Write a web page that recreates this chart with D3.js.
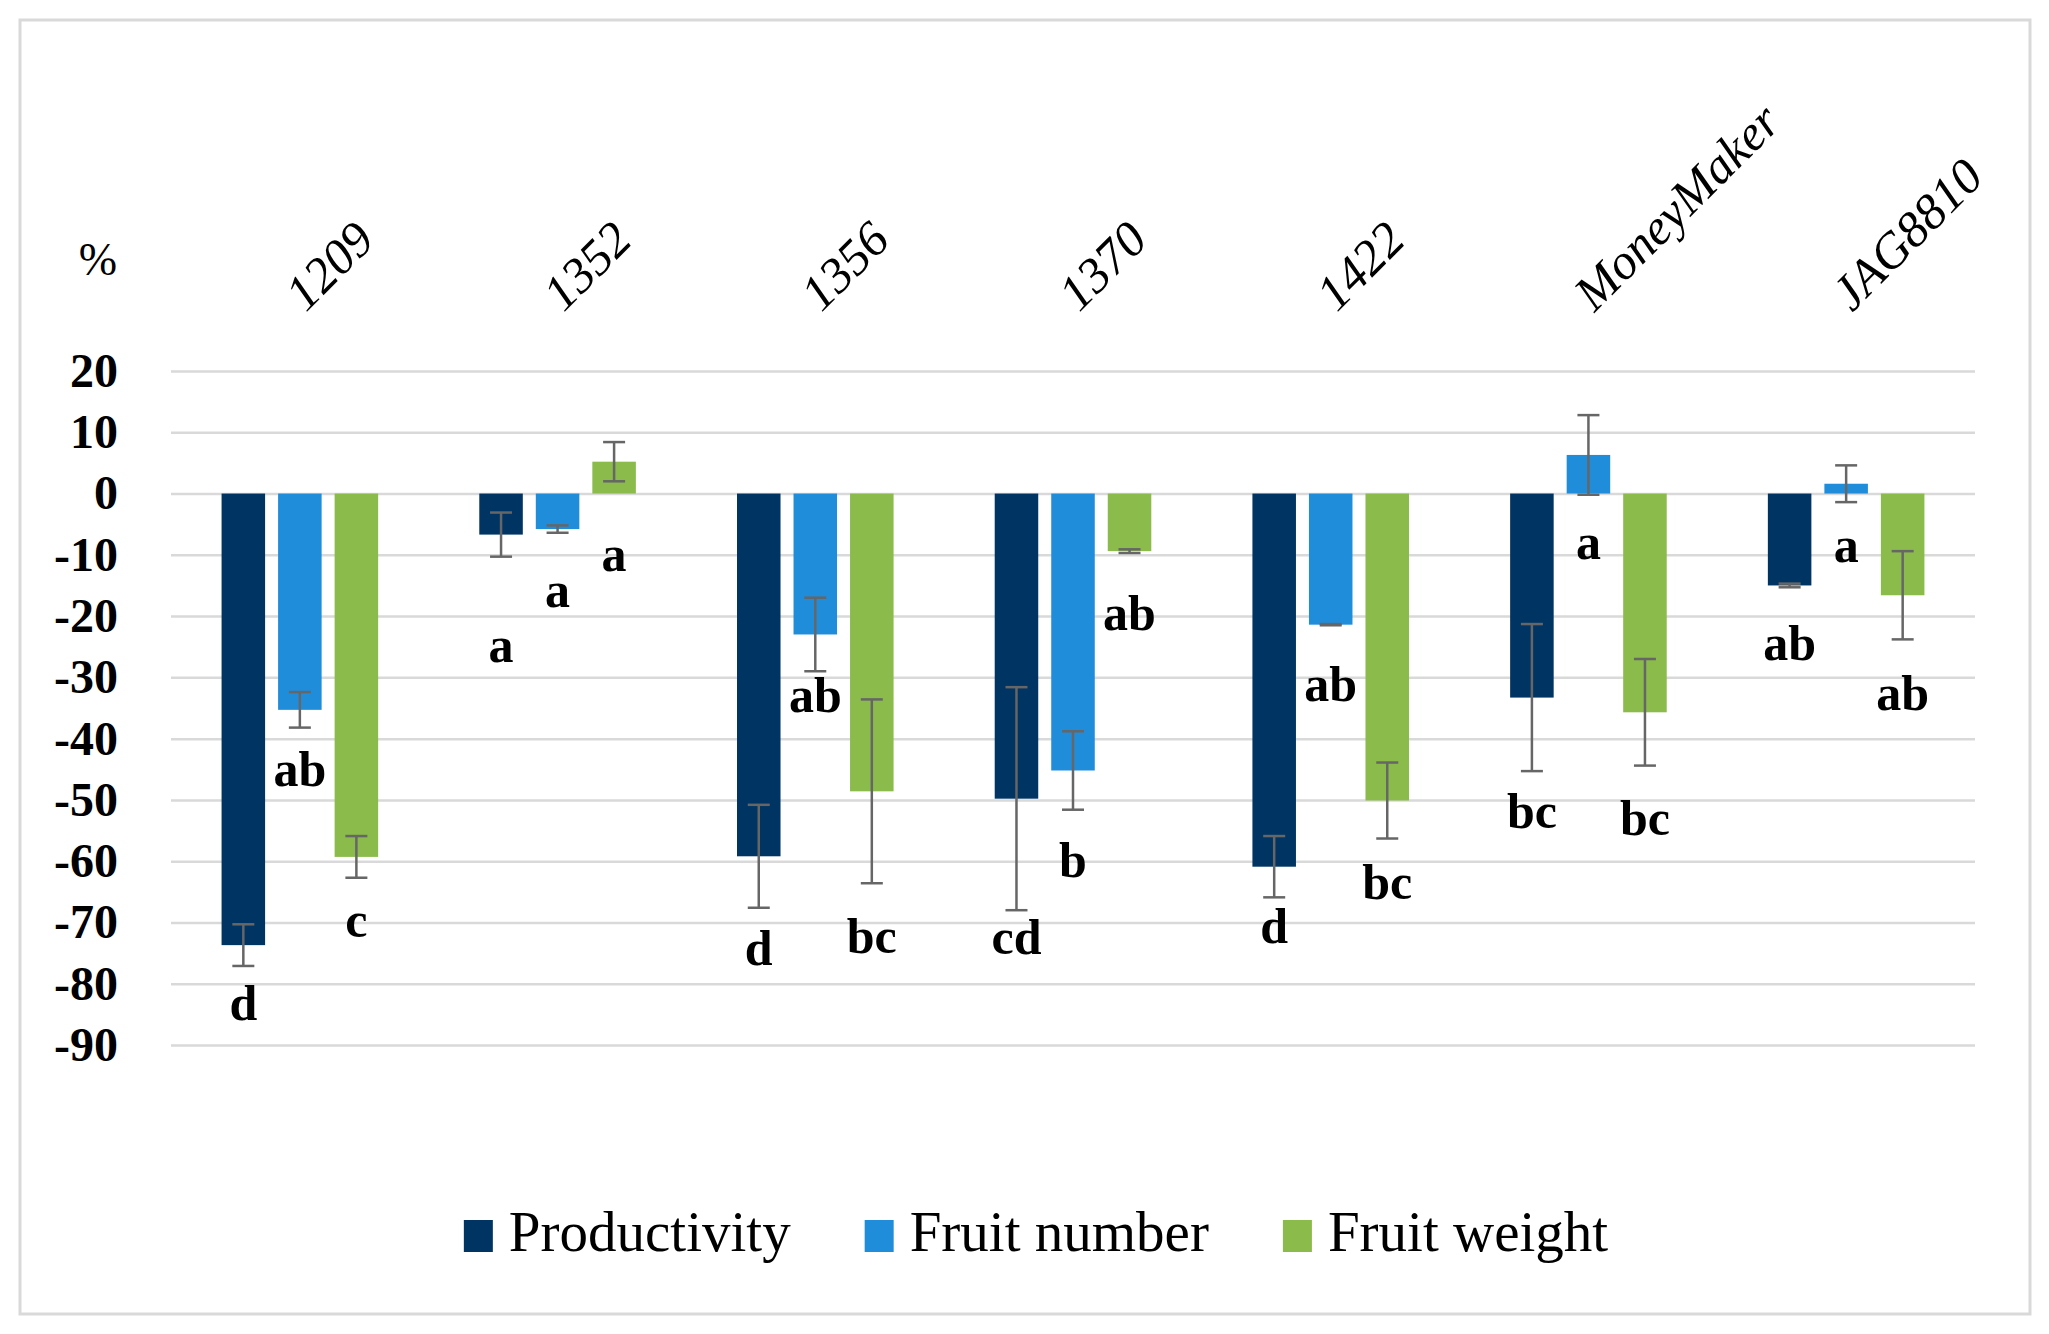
<!DOCTYPE html>
<html>
<head>
<meta charset="utf-8">
<script src="https://cdn.jsdelivr.net/npm/d3@7"></script>
<style>
  body { margin: 0; background: #fff; }
  text { font-family: "Liberation Serif", "DejaVu Serif", serif; fill: #000; }
</style>
</head>
<body>
<svg id="chart" width="2049" height="1334"></svg>
<script>
// categories and series
var lines = ["1209", "1352", "1356", "1370", "1422", "MoneyMaker", "JAG8810"];
var seriesNames = ["Productivity", "Fruit number", "Fruit weight"];
var colors = ["#003462", "#208ddb", "#8bbb4b"];

var productivity = [-73.7, -6.7, -59.2, -49.8, -60.9, -33.3, -15.0];
var fruitNumber  = [-35.3, -5.8, -23.0, -45.2, -21.4, 6.3, 1.6];
var fruitWeight  = [-59.3, 5.2, -48.6, -9.4, -50.1, -35.7, -16.6];

var productivityErr = [3.4, 3.6, 8.4, 18.2, 5.0, 12.0, 0.3];
var fruitNumberErr  = [2.9, 0.6, 6.0, 6.4, 0.1, 6.5, 3.0];
var fruitWeightErr  = [3.4, 3.2, 15.0, 0.3, 6.2, 8.7, 7.2];

// significance letters and the value (in %) where each one sits
var productivityLetters = ["d", "a", "d", "cd", "d", "bc", "ab"];
var fruitNumberLetters  = ["ab", "a", "ab", "b", "ab", "a", "a"];
var fruitWeightLetters  = ["c", "a", "bc", "ab", "bc", "bc", "ab"];
var productivityLetterAt = [-86.0, -27.5, -77.0, -75.2, -73.4, -54.6, -27.2];
var fruitNumberLetterAt  = [-47.8, -18.5, -35.7, -62.5, -33.9, -10.7, -11.1];
var fruitWeightLetterAt  = [-72.3, -12.7, -75.0, -22.2, -66.1, -55.7, -35.4];

var yTicks = d3.range(-90, 21, 10);

var allValues = [productivity, fruitNumber, fruitWeight];
var allErrs = [productivityErr, fruitNumberErr, fruitWeightErr];
var allLetters = [productivityLetters, fruitNumberLetters, fruitWeightLetters];
var allLetterAt = [productivityLetterAt, fruitNumberLetterAt, fruitWeightLetterAt];

var rows = [];
lines.forEach(function(line, i) {
    seriesNames.forEach(function(s, j) {
        rows.push({line: line, series: s, idx: j, value: allValues[j][i], err: allErrs[j][i],
                   letter: allLetters[j][i], letterAt: allLetterAt[j][i]});
    });
});

var svg = d3.select("#chart");
var plotLeft = 171, plotRight = 1975, plotTop = 371, plotBottom = 1045;

// outer frame
svg.append("rect").attr("x", 20).attr("y", 20).attr("width", 2010).attr("height", 1294)
    .attr("fill", "none").attr("stroke", "#d9d9d9").attr("stroke-width", 3);

var x0 = d3.scaleBand().domain(lines).range([plotLeft, plotRight]);
var bw = x0.bandwidth();
var x1 = d3.scaleBand().domain(seriesNames).range([bw * 0.171, bw * 0.829])
    .paddingInner(0.23).paddingOuter(0.115);
var y = d3.scaleLinear().domain([-90, 20]).range([plotBottom, plotTop]);
var color = d3.scaleOrdinal().domain(seriesNames).range(colors);

function barCenter(d) { return x0(d.line) + x1(d.series) + x1.bandwidth() / 2; }

// gridlines
var grid = svg.append("g").attr("transform", "translate(" + plotLeft + ",0)")
    .call(d3.axisLeft(y).tickValues(yTicks).tickSize(-(plotRight - plotLeft)).tickFormat(""));
grid.select(".domain").remove();
grid.selectAll(".tick line").attr("stroke", "#d9d9d9").attr("stroke-width", 2.5);

// y labels
var yAxis = svg.append("g").attr("transform", "translate(" + plotLeft + ",0)")
    .call(d3.axisLeft(y).tickValues(yTicks).tickSize(0).tickPadding(53).tickFormat(function(d) { return String(d); }));
yAxis.select(".domain").remove();
yAxis.selectAll("text").style("font-family", "'Liberation Serif', serif")
    .style("font-size", "48px").style("font-weight", "bold").attr("fill", "#000");

svg.append("text").attr("x", 98).attr("y", 275).attr("text-anchor", "middle")
    .style("font-size", "46px").text("%");

// category labels along the top
svg.selectAll(".cat").data(lines).enter().append("text")
    .attr("class", "cat")
    .attr("transform", function(d) { return "translate(" + (x0(d) + bw / 2 + 6) + ",313) rotate(-45)"; })
    .style("font-size", "50px").style("font-style", "italic")
    .text(function(d) { return d; });

// bars
var g = svg.append("g");
g.selectAll(".bar").data(rows).enter().append("rect")
    .attr("class", "bar")
    .attr("x", function(d) { return x0(d.line) + x1(d.series); })
    .attr("width", x1.bandwidth())
    .attr("y", function(d) { return y(Math.max(0, d.value)); })
    .attr("height", function(d) { return Math.abs(y(d.value) - y(0)); })
    .attr("fill", function(d) { return color(d.series); });

// error bars
var cap = 11;
var eb = g.selectAll(".err").data(rows).enter().append("g").attr("class", "err")
    .attr("stroke", "#666").attr("stroke-width", 2.5);
eb.append("line")
    .attr("x1", barCenter).attr("x2", barCenter)
    .attr("y1", function(d) { return y(d.value + d.err); })
    .attr("y2", function(d) { return y(d.value - d.err); });
[1, -1].forEach(function(sign) {
    eb.append("line")
        .attr("x1", function(d) { return barCenter(d) - cap; })
        .attr("x2", function(d) { return barCenter(d) + cap; })
        .attr("y1", function(d) { return y(d.value + sign * d.err); })
        .attr("y2", function(d) { return y(d.value + sign * d.err); });
});

// letters
g.selectAll(".letter").data(rows).enter().append("text")
    .attr("class", "letter")
    .attr("x", barCenter)
    .attr("y", function(d) { return y(d.letterAt); })
    .attr("text-anchor", "middle")
    .style("font-size", "50px").style("font-weight", "bold")
    .text(function(d) { return d.letter; });

// legend
var legend = svg.append("g");
var items = legend.selectAll(".item").data(seriesNames).enter().append("g").attr("class", "item");
items.append("rect").attr("width", 29).attr("height", 32).attr("y", 1220)
    .attr("fill", function(d) { return color(d); });
items.append("text").attr("x", 45).attr("y", 1251)
    .style("font-size", "57px").text(function(d) { return d; });
var pos = 0, offsets = [];
items.each(function() {
    offsets.push(pos);
    pos += 45 + d3.select(this).select("text").node().getComputedTextLength() + 74;
});
var total = pos - 74, start = 1036 - total / 2;
items.attr("transform", function(d, i) { return "translate(" + (start + offsets[i]) + ",0)"; });
</script>
</body>
</html>
